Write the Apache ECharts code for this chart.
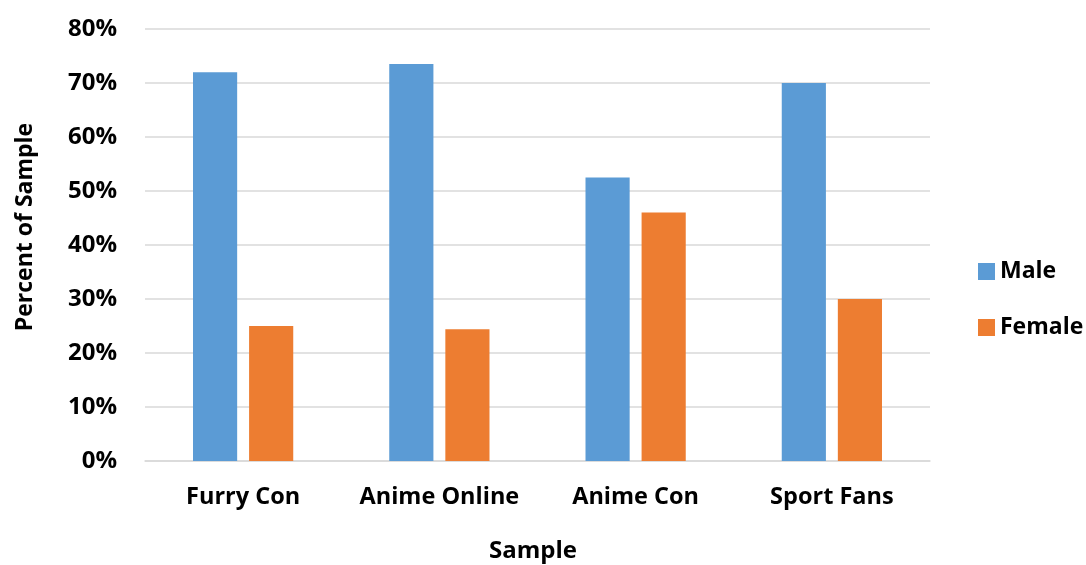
<!DOCTYPE html>
<html><head><meta charset="utf-8">
<script src="https://cdn.jsdelivr.net/npm/echarts@6/dist/echarts.min.js"></script>
<style>html,body{margin:0;padding:0;background:#fff}#c{width:1086px;height:565px}</style>
</head><body><div id="c"></div>
<script>
const categories = ['Furry Con', 'Anime Online', 'Anime Con', 'Sport Fans'];
const maleValues = [72, 73.5, 52.5, 70];
const femaleValues = [25, 24.4, 46, 30];
const yTicks = [0, 10, 20, 30, 40, 50, 60, 70, 80];
const FONT = '"Open Sans", sans-serif';
const chart = echarts.init(document.getElementById('c'));
chart.setOption({
  animation: false,
  backgroundColor: '#fff',
  grid: { left: 145, right: 156, top: 29, bottom: 104 },
  legend: {
    orient: 'vertical', left: 973, top: 255, itemWidth: 17, itemHeight: 17, itemGap: 33,
    icon: 'rect',
    textStyle: { fontFamily: FONT, fontWeight: 'bold', fontSize: 23, color: '#000' },
    data: ['Male', 'Female']
  },
  xAxis: {
    type: 'category', data: categories,
    axisLine: { lineStyle: { color: '#d9d9d9', width: 1.5 } },
    axisTick: { show: false },
    axisLabel: { interval: 0, hideOverlap: false, fontFamily: FONT, fontWeight: 'bold', fontSize: 23.5, color: '#000', margin: 24 }
  },
  yAxis: {
    type: 'value', min: yTicks[0], max: yTicks[yTicks.length - 1], interval: 10,
    axisLine: { show: false }, axisTick: { show: false },
    splitLine: { lineStyle: { color: '#d9d9d9', width: 1.5 } },
    axisLabel: { fontFamily: FONT, fontWeight: 'bold', fontSize: 24, color: '#000', margin: 28, formatter: v => v + '%' }
  },
  graphic: [
    { type: 'text', x: 25, y: 227, rotation: Math.PI / 2,
      style: { text: 'Percent of Sample', fontFamily: FONT, fontWeight: 'bold', fontSize: 23, fill: '#000', textAlign: 'center', textVerticalAlign: 'middle' } },
    { type: 'text', x: 533, y: 551,
      style: { text: 'Sample', fontFamily: FONT, fontWeight: 'bold', fontSize: 24, fill: '#000', textAlign: 'center', textVerticalAlign: 'middle' } }
  ],
  series: [
    { name: 'Male', type: 'bar', data: maleValues, barWidth: '22.5%', barGap: '27%', itemStyle: { color: '#5B9BD5' } },
    { name: 'Female', type: 'bar', data: femaleValues, barWidth: '22.5%', itemStyle: { color: '#ED7D31' } }
  ]
});
</script></body></html>
